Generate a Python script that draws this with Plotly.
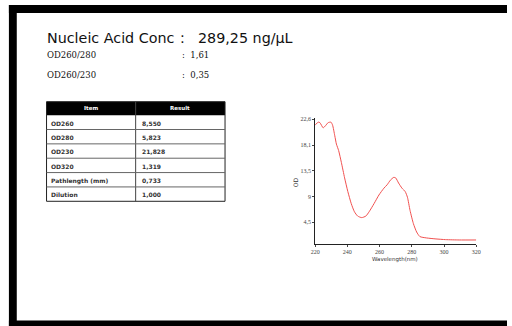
import plotly.graph_objects as go

W, H = 512, 326

# Absorbance spectrum
wavelength = [220, 222, 223, 225, 226.5, 228, 229.8, 230.8, 232.2, 233.2, 234.6, 236.3, 238.3,
              240.3, 242.4, 244.4, 246.4, 248.9, 251.5, 253.5, 256.6, 259.6, 262.7, 264.7,
              266.7, 268.8, 270, 271.8, 273.9, 275.9, 277.3, 278.9, 281, 283, 285, 289, 295,
              301, 309.4, 320]
absorbance = [21.6, 22.1, 22.0, 21.1, 21.5, 22.0, 22.1, 21.6, 19.7, 18.25, 17.1, 15.0, 12.3,
              9.9, 7.8, 6.35, 5.6, 5.33, 5.6, 6.35, 7.8, 9.3, 10.5, 11.1, 11.9, 12.4, 12.3,
              11.4, 10.5, 9.9, 8.9, 6.6, 4.26, 2.8, 2.0, 1.76, 1.58, 1.46, 1.4, 1.4]

x_ticks = [220, 240, 260, 280, 300, 320]
y_ticks = [4.52, 9.04, 13.56, 18.08, 22.6]
y_tick_text = ["4,5", "9", "13,5", "18,1", "22,6"]

# Summary values
conc_label = "Nucleic Acid Conc"
conc_value = "289,25 ng/µL"
ratio_labels = ["OD260/280", "OD260/230"]
ratio_values = ["1,61", "0,35"]

# Results table
table_header = ["Item", "Result"]
table_items = ["OD260", "OD280", "OD230", "OD320", "Pathlength (mm)", "Dilution"]
table_results = ["8,550", "5,823", "21,828", "1,319", "0,733", "1,000"]


def px(x):
    return x / W


def py(y):
    return 1 - y / H


fig = go.Figure()
fig.add_trace(go.Scatter(x=wavelength, y=absorbance, mode="lines",
                         line=dict(color="#f0504f", width=1, shape="spline", smoothing=0.6),
                         hoverinfo="skip", showlegend=False))

shapes = []
ann = []

# page frame
frame = [(5, 4, 512, 12), (5, 4, 13, 326), (5, 320.5, 512, 326)]
for x0, y0, x1, y1 in frame:
    shapes.append(dict(type="rect", xref="paper", yref="paper", x0=px(x0), x1=px(x1),
                       y0=py(y1), y1=py(y0), fillcolor="black", line=dict(width=0)))

# header text block
big = dict(family="DejaVu Sans", size=14.3, color="#111")
ann.append(dict(x=px(42), y=py(37), text=conc_label, xanchor="left", yanchor="middle", font=big))
ann.append(dict(x=px(182), y=py(37), text=":", xanchor="center", yanchor="middle", font=big))
ann.append(dict(x=px(195), y=py(37), text=conc_value, xanchor="left", yanchor="middle", font=big))
small = dict(family="DejaVu Serif", size=8.5, color="#111")
for i, (lab, val) in enumerate(zip(ratio_labels, ratio_values)):
    yy = 54.5 + 20 * i
    ann.append(dict(x=px(42), y=py(yy), text=lab, xanchor="left", yanchor="middle", font=small))
    ann.append(dict(x=px(179), y=py(yy), text=":  " + val, xanchor="left", yanchor="middle",
                    font=small))

# results table
t_left, t_mid, t_right = 43.3, 134, 225
t_top, h_bot, row_h = 101, 114.5, 14.4
t_bot = h_bot + row_h * len(table_items)
shapes.append(dict(type="rect", xref="paper", yref="paper", x0=px(t_left), x1=px(t_right),
                   y0=py(h_bot), y1=py(t_top), fillcolor="black", line=dict(width=0)))
shapes.append(dict(type="rect", xref="paper", yref="paper", x0=px(t_left), x1=px(t_right),
                   y0=py(t_bot), y1=py(t_top), line=dict(color="#222", width=1)))
shapes.append(dict(type="line", xref="paper", yref="paper", x0=px(t_mid), x1=px(t_mid),
                   y0=py(t_bot), y1=py(t_top), line=dict(color="#444", width=1)))
for i in range(1, len(table_items)):
    yy = h_bot + row_h * i
    shapes.append(dict(type="line", xref="paper", yref="paper", x0=px(t_left), x1=px(t_right),
                       y0=py(yy), y1=py(yy), line=dict(color="#666", width=1)))
for txt, cx in zip(table_header, [(t_left + t_mid) / 2, (t_mid + t_right) / 2]):
    ann.append(dict(x=px(cx), y=py((t_top + h_bot) / 2), text="<b>" + txt + "</b>",
                    xanchor="center", yanchor="middle",
                    font=dict(family="DejaVu Sans", size=5.5, color="white")))
for i, (item, res) in enumerate(zip(table_items, table_results)):
    yy = h_bot + row_h * (i + 0.5) + 0.8
    ann.append(dict(x=px(t_left + 3), y=py(yy), text="<b>" + item + "</b>", xanchor="left",
                    yanchor="middle", font=dict(family="DejaVu Sans", size=6, color="#333")))
    ann.append(dict(x=px(t_mid + 4), y=py(yy), text="<b>" + res + "</b>", xanchor="left",
                    yanchor="middle", font=dict(family="DejaVu Sans", size=6, color="#333")))

# axis titles
ann.append(dict(x=px(398), y=py(259.5), text="Wavelength(nm)", xanchor="center",
                yanchor="middle", font=dict(family="DejaVu Sans", size=5.5, color="#333")))
ann.append(dict(x=px(297), y=py(182), text="OD", textangle=-90, xanchor="center",
                yanchor="middle", font=dict(family="DejaVu Sans", size=6, color="#333")))

for a in ann:
    a.update(xref="paper", yref="paper", showarrow=False)

tickfont = dict(family="Liberation Serif", size=6, color="#444")
fig.update_layout(
    width=W, height=H, margin=dict(l=0, r=0, t=0, b=0),
    paper_bgcolor="white", plot_bgcolor="white",
    shapes=shapes, annotations=ann, showlegend=False,
    xaxis=dict(domain=[px(316.7), px(480.7)], range=[220, 320], tickvals=x_ticks,
               showgrid=False, zeroline=False, showline=True, linecolor="#222", linewidth=1,
               ticks="outside", ticklen=2, tickcolor="#444", tickfont=tickfont),
    yaxis=dict(domain=[py(243.5), py(117)], range=[0.735, 22.89], tickvals=y_ticks,
               ticktext=y_tick_text, showgrid=False, zeroline=False, showline=True,
               linecolor="#222", linewidth=1, ticks="outside", ticklen=2, tickcolor="#444",
               tickfont=tickfont),
)

fig.write_html("out.html")
